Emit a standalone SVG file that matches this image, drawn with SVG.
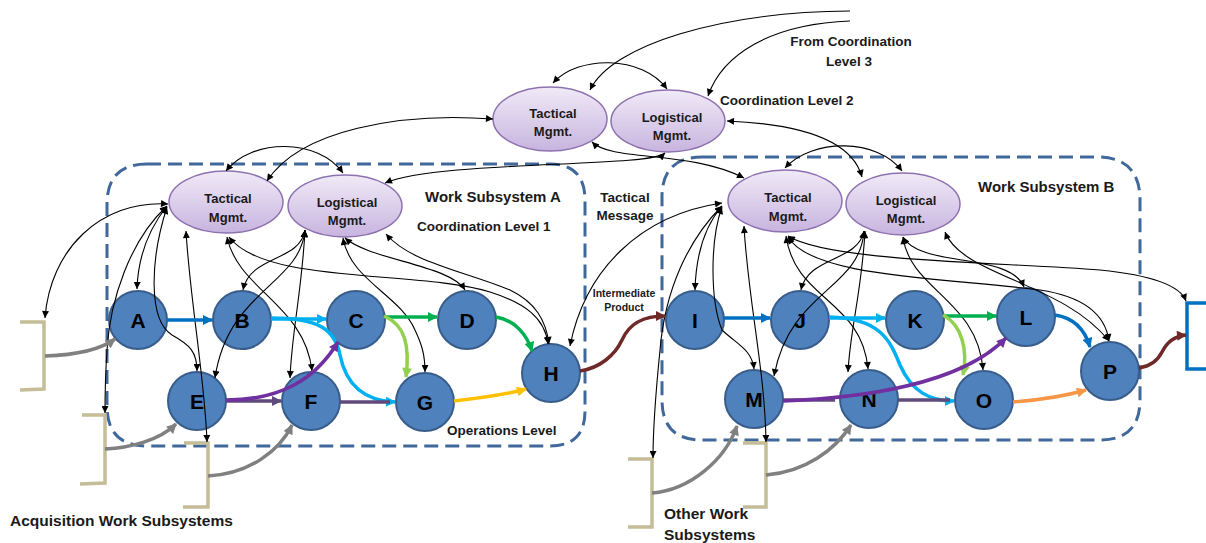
<svg xmlns="http://www.w3.org/2000/svg" width="1206" height="543" viewBox="0 0 1206 543">
<style>
.t{font-family:"Liberation Sans",Arial,sans-serif;font-weight:bold;fill:#1a1a1a}
.box{fill:none;stroke:#41689A;stroke-width:3;stroke-dasharray:14 7}
.mg{fill:url(#lav);stroke:#8E72B0;stroke-width:1.5}
.nd{fill:#4F81BD;stroke:#385D8A;stroke-width:2}
.nl{font-family:"Liberation Sans",Arial,sans-serif;font-weight:bold;font-size:21px;fill:#000;text-anchor:middle}
.ml{font-family:"Liberation Sans",Arial,sans-serif;font-weight:bold;font-size:13px;fill:#1a1a1a;text-anchor:middle}
.k{fill:none;stroke:#000;stroke-width:1.1;marker-start:url(#mk);marker-end:url(#mk)}
.k1{fill:none;stroke:#000;stroke-width:1.1;marker-end:url(#mk)}
.c{fill:none;stroke-width:3.5}
.gr{fill:none;stroke:#808080;stroke-width:3.5;marker-end:url(#mgr)}
.br{fill:none;stroke:#C4BD97;stroke-width:3.5}
</style>
<defs>
<linearGradient id="lav" x1="0" y1="0" x2="0" y2="1">
<stop offset="0" stop-color="#F0EAF7"/>
<stop offset="1" stop-color="#C8B4DF"/>
</linearGradient>
<marker id="mk" viewBox="0 0 10 10" refX="10" refY="5" markerWidth="8" markerHeight="7" markerUnits="userSpaceOnUse" orient="auto-start-reverse"><path d="M0,0 L10,5 L0,10 z" fill="#000"/></marker>
<marker id="mgr" viewBox="0 0 10 10" refX="9" refY="5" markerWidth="12" markerHeight="10" markerUnits="userSpaceOnUse" orient="auto"><path d="M0,0 L10,5 L0,10 z" fill="#808080"/></marker>
<marker id="mb" viewBox="0 0 10 10" refX="9" refY="5" markerWidth="12" markerHeight="10" markerUnits="userSpaceOnUse" orient="auto"><path d="M0,0 L10,5 L0,10 z" fill="#0070C0"/></marker>
<marker id="mlb" viewBox="0 0 10 10" refX="9" refY="5" markerWidth="12" markerHeight="10" markerUnits="userSpaceOnUse" orient="auto"><path d="M0,0 L10,5 L0,10 z" fill="#00B0F0"/></marker>
<marker id="mgn" viewBox="0 0 10 10" refX="9" refY="5" markerWidth="12" markerHeight="10" markerUnits="userSpaceOnUse" orient="auto"><path d="M0,0 L10,5 L0,10 z" fill="#00B050"/></marker>
<marker id="mlg" viewBox="0 0 10 10" refX="9" refY="5" markerWidth="12" markerHeight="10" markerUnits="userSpaceOnUse" orient="auto"><path d="M0,0 L10,5 L0,10 z" fill="#92D050"/></marker>
<marker id="mpu" viewBox="0 0 10 10" refX="9" refY="5" markerWidth="12" markerHeight="10" markerUnits="userSpaceOnUse" orient="auto"><path d="M0,0 L10,5 L0,10 z" fill="#7030A0"/></marker>
<marker id="mdp" viewBox="0 0 10 10" refX="9" refY="5" markerWidth="12" markerHeight="10" markerUnits="userSpaceOnUse" orient="auto"><path d="M0,0 L10,5 L0,10 z" fill="#604A7B"/></marker>
<marker id="my" viewBox="0 0 10 10" refX="9" refY="5" markerWidth="12" markerHeight="10" markerUnits="userSpaceOnUse" orient="auto"><path d="M0,0 L10,5 L0,10 z" fill="#FFC000"/></marker>
<marker id="mor" viewBox="0 0 10 10" refX="9" refY="5" markerWidth="12" markerHeight="10" markerUnits="userSpaceOnUse" orient="auto"><path d="M0,0 L10,5 L0,10 z" fill="#F79646"/></marker>
<marker id="mbr" viewBox="0 0 10 10" refX="9" refY="5" markerWidth="12" markerHeight="10" markerUnits="userSpaceOnUse" orient="auto"><path d="M0,0 L10,5 L0,10 z" fill="#6E2A28"/></marker>
</defs>
<rect width="1206" height="543" fill="#fff"/>

<g id="subsystem-boxes">
<path class="box" d="M147,164 L550,164 Q585,164 585,200 L585,411 Q585,446 550,446 L147,446 Q107,446 107,406 L107,204 Q107,164 147,164 Z"/>
<path class="box" d="M702,157 L1097,157 Q1140,157 1140,200 L1140,400 Q1140,440 1100,440 L702,440 Q662,440 662,400 L662,197 Q662,157 702,157 Z"/>
</g>

<g id="brackets">
<path class="br" d="M20,322 L44,322 L44,389 L20,390"/>
<path class="br" d="M82,415 L105,415 L105,483 L80,484"/>
<path class="br" d="M184,443 L208,443 L208,507 L183,507"/>
<path class="br" d="M628,459 L652,459 L652,527 L628,527"/>
<path class="br" d="M743,443 L766,443 L766,507 L743,507"/>
<path d="M1206,303 L1187,303 L1187,369 L1206,369" fill="none" stroke="#0070C0" stroke-width="3.5"/>
</g>

<g id="mgmt">
<g id="tactical-l2"><ellipse class="mg" cx="550" cy="119" rx="57" ry="32"/><text class="ml" x="553" y="118">Tactical</text><text class="ml" x="553" y="136">Mgmt.</text></g>
<g id="logistical-l2"><ellipse class="mg" cx="668" cy="121" rx="57" ry="31"/><text class="ml" x="672" y="122">Logistical</text><text class="ml" x="672" y="140">Mgmt.</text></g>
<g id="tactical-a"><ellipse class="mg" cx="226" cy="202" rx="57" ry="31"/><text class="ml" x="228" y="203">Tactical</text><text class="ml" x="228" y="222">Mgmt.</text></g>
<g id="logistical-a"><ellipse class="mg" cx="345" cy="206" rx="57" ry="31"/><text class="ml" x="347" y="207">Logistical</text><text class="ml" x="347" y="225">Mgmt.</text></g>
<g id="tactical-b"><ellipse class="mg" cx="785" cy="201" rx="57" ry="31"/><text class="ml" x="788" y="202">Tactical</text><text class="ml" x="788" y="221">Mgmt.</text></g>
<g id="logistical-b"><ellipse class="mg" cx="903" cy="204" rx="57" ry="31"/><text class="ml" x="906" y="205">Logistical</text><text class="ml" x="906" y="223">Mgmt.</text></g>
</g>

<g id="nodes">
<g id="node-A"><circle class="nd" cx="138" cy="320" r="29"/><text class="nl" x="138" y="328">A</text></g>
<g id="node-B"><circle class="nd" cx="242" cy="320" r="29"/><text class="nl" x="242" y="328">B</text></g>
<g id="node-C"><circle class="nd" cx="356" cy="320" r="29"/><text class="nl" x="356" y="328">C</text></g>
<g id="node-D"><circle class="nd" cx="467" cy="320" r="29"/><text class="nl" x="467" y="328">D</text></g>
<g id="node-E"><circle class="nd" cx="197" cy="401" r="29"/><text class="nl" x="197" y="409">E</text></g>
<g id="node-F"><circle class="nd" cx="311" cy="401" r="29"/><text class="nl" x="311" y="409">F</text></g>
<g id="node-G"><circle class="nd" cx="425" cy="402" r="29"/><text class="nl" x="425" y="410">G</text></g>
<g id="node-H"><circle class="nd" cx="551" cy="373" r="29"/><text class="nl" x="551" y="381">H</text></g>
<g id="node-I"><circle class="nd" cx="695" cy="320" r="29"/><text class="nl" x="695" y="328">I</text></g>
<g id="node-J"><circle class="nd" cx="800" cy="320" r="29"/><text class="nl" x="800" y="328">J</text></g>
<g id="node-K"><circle class="nd" cx="915" cy="320" r="29"/><text class="nl" x="915" y="328">K</text></g>
<g id="node-L"><circle class="nd" cx="1026" cy="317" r="29"/><text class="nl" x="1026" y="325">L</text></g>
<g id="node-M"><circle class="nd" cx="754" cy="399" r="29"/><text class="nl" x="754" y="407">M</text></g>
<g id="node-N"><circle class="nd" cx="869" cy="399" r="29"/><text class="nl" x="869" y="407">N</text></g>
<g id="node-O"><circle class="nd" cx="984" cy="400" r="29"/><text class="nl" x="984" y="408">O</text></g>
<g id="node-P"><circle class="nd" cx="1110" cy="371" r="29"/><text class="nl" x="1110" y="379">P</text></g>
</g>

<g id="connectors">
<!-- top level -->
<path class="k1" d="M850,11 C720,12 612,45 590,90"/>
<path class="k1" d="M850,21 C770,24 722,55 708,96"/>
<path class="k" d="M553,83 C578,55 642,55 667,89"/>
<path class="k" d="M267,181 C300,130 400,112 493,119"/>
<path class="k" d="M226,171 C252,138 318,138 343,173"/>
<path class="k" d="M665,153 C650,168 440,160 385,183"/>
<path class="k" d="M592,142 C612,162 690,150 744,178"/>
<path class="k" d="M727,121 C800,124 852,140 862,177"/>
<path class="k" d="M785,168 C812,138 878,138 902,171"/>
<!-- subsystem A -->
<path class="k" d="M168,204 C100,200 50,250 45,318"/>
<path class="k" d="M167,206 C148,230 138,258 137,289"/>
<path class="k" d="M167,206 C130,240 110,300 107,350 C105,380 105,395 105,413"/>
<path class="k" d="M167,207 C150,260 148,320 172,335 C190,345 197,352 197,371"/>
<path class="k" d="M186,231 C190,300 205,380 207,442"/>
<path class="k" d="M305,230 C300,262 250,255 243,290"/>
<path class="k" d="M305,230 C300,285 228,290 215,378"/>
<path class="k" d="M305,230 C302,290 292,330 290,378"/>
<path class="k" d="M227,237 C238,290 305,305 312,371"/>
<path class="k" d="M229,237 C265,285 420,270 490,292 C525,303 545,318 548,344"/>
<path class="k" d="M343,238 C350,280 400,295 415,330 C422,345 425,355 425,372"/>
<path class="k" d="M345,238 C370,260 450,265 465,290"/>
<path class="k" d="M386,234 C410,262 460,270 510,290 C535,302 546,320 549,344"/>
<!-- subsystem B -->
<path class="k" d="M570,346 C585,270 640,215 722,203"/>
<path class="k" d="M722,206 C705,226 696,252 695,290"/>
<path class="k" d="M722,207 C710,240 710,300 722,330 C738,345 752,350 754,369"/>
<path class="k" d="M722,206 C688,240 665,290 660,350 C655,400 653,430 653,458"/>
<path class="k" d="M744,226 C748,300 765,370 766,442"/>
<path class="k" d="M864,231 C858,262 808,256 801,290"/>
<path class="k" d="M864,231 C860,290 790,290 774,376"/>
<path class="k" d="M865,231 C862,290 850,330 848,372"/>
<path class="k" d="M786,236 C795,300 862,300 868,369"/>
<path class="k" d="M788,237 C812,278 950,278 1040,290 C1080,296 1105,312 1109,341"/>
<path class="k" d="M788,236 C830,262 1000,262 1100,270 C1150,275 1180,285 1186,301"/>
<path class="k" d="M903,237 C910,290 978,300 983,370"/>
<path class="k" d="M903,237 C920,268 1010,252 1024,287"/>
<path class="k" d="M945,232 C962,276 1062,282 1109,341"/>
<!-- colored flows A -->
<path class="c" stroke="#0070C0" marker-end="url(#mb)" d="M167,320 L212,320"/>
<path class="c" stroke="#00B0F0" marker-end="url(#mlb)" d="M271,319 L326,319"/>
<path class="c" stroke="#00B0F0" marker-end="url(#mlb)" d="M271,318 C320,318 335,330 340,355 C347,390 370,401 395,402"/>
<path class="c" stroke="#00B050" marker-end="url(#mgn)" d="M385,317 L437,317"/>
<path class="c" stroke="#92D050" marker-end="url(#mlg)" d="M384,316 C405,325 410,345 406,377"/>
<path class="c" stroke="#00B050" marker-end="url(#mgn)" d="M496,317 C515,320 527,335 532,351"/>
<path class="c" stroke="#604A7B" marker-end="url(#mdp)" d="M226,401 L281,401"/>
<path class="c" stroke="#7030A0" marker-end="url(#mpu)" d="M226,400 C280,400 315,380 338,342"/>
<path class="c" stroke="#604A7B" d="M340,402 L390,402"/>
<path class="c" stroke="#FFC000" marker-end="url(#my)" d="M454,401 C480,398 505,395 526,389"/>
<path class="c" stroke="#6E2A28" marker-end="url(#mbr)" d="M580,371 C600,368 615,355 622,340 C630,322 645,316 665,316"/>
<!-- colored flows B -->
<path class="c" stroke="#0070C0" marker-end="url(#mb)" d="M724,318 L770,318"/>
<path class="c" stroke="#00B0F0" marker-end="url(#mlb)" d="M829,318 L885,318"/>
<path class="c" stroke="#00B0F0" marker-end="url(#mlb)" d="M829,317 C880,318 890,340 900,365 C912,392 930,401 954,401"/>
<path class="c" stroke="#00B050" marker-end="url(#mgn)" d="M944,316 L996,316"/>
<path class="c" stroke="#92D050" marker-end="url(#mlg)" d="M943,315 C962,325 968,350 963,375"/>
<path class="c" stroke="#0070C0" marker-end="url(#mb)" d="M1055,315 C1075,318 1085,330 1090,347"/>
<path class="c" stroke="#604A7B" d="M783,400 L835,400"/>
<path class="c" stroke="#7030A0" marker-end="url(#mpu)" d="M783,401 C860,398 960,385 1006,338"/>
<path class="c" stroke="#604A7B" d="M898,400 L950,400"/>
<path class="c" stroke="#F79646" marker-end="url(#mor)" d="M1013,402 C1040,400 1065,396 1086,390"/>
<path class="c" stroke="#6E2A28" marker-end="url(#mbr)" d="M1139,368 C1152,366 1158,360 1162,352 C1167,342 1175,336 1186,335"/>
<!-- inputs -->
<path class="gr" d="M45,356 C75,355 100,350 115,339"/>
<path class="gr" d="M105,449 C130,448 160,440 176,424"/>
<path class="gr" d="M208,476 C250,474 280,450 292,425"/>
<path class="gr" d="M652,493 C690,490 725,460 737,426"/>
<path class="gr" d="M766,475 C805,472 835,450 851,425"/>
</g>

<g id="labels">
<text class="t" font-size="13.5" x="851" y="46" text-anchor="middle">From Coordination</text>
<text class="t" font-size="13.5" x="849" y="66" text-anchor="middle">Level 3</text>
<text class="t" font-size="13.5" x="720" y="105">Coordination Level 2</text>
<text class="t" font-size="15" x="425" y="202">Work Subsystem A</text>
<text class="t" font-size="13.5" x="417" y="231">Coordination Level 1</text>
<text class="t" font-size="13.5" x="625" y="202" text-anchor="middle">Tactical</text>
<text class="t" font-size="13.5" x="625" y="220" text-anchor="middle">Message</text>
<text class="t" font-size="10.5" x="624" y="297" text-anchor="middle" font-weight="normal">Intermediate</text>
<text class="t" font-size="10.5" x="624" y="311" text-anchor="middle" font-weight="normal">Product</text>
<text class="t" font-size="15" x="978" y="192">Work Subsystem B</text>
<text class="t" font-size="13.5" x="447" y="435">Operations Level</text>
<text class="t" font-size="15.5" x="10" y="526">Acquisition Work Subsystems</text>
<text class="t" font-size="15.5" x="664" y="519">Other Work</text>
<text class="t" font-size="15.5" x="664" y="540">Subsystems</text>
</g>
</svg>
